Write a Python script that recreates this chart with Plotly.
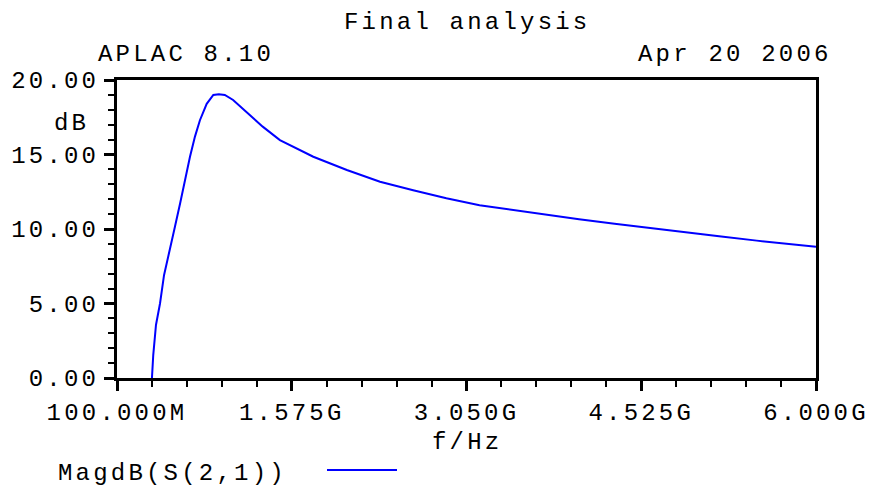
import plotly.graph_objects as go

# Data (frequency in GHz, magnitude in dB)
freq_ghz = [0.395, 0.406, 0.429, 0.463, 0.497, 0.533, 0.562, 0.589, 0.632, 0.674,
            0.716, 0.758, 0.80, 0.857, 0.913, 0.96, 1.01, 1.08, 1.19, 1.33,
            1.475, 1.644, 1.757, 2.04, 2.32, 2.6, 2.88, 3.16, 3.44, 3.73,
            4.0, 4.3, 4.6, 4.9, 5.2, 5.5, 5.8, 6.0]
mag_db = [0.0, 1.54, 3.56, 5.0, 6.9, 8.14, 9.04, 10.15, 11.7, 13.3,
          14.85, 16.2, 17.3, 18.4, 19.0, 19.05, 19.0, 18.66, 17.87, 16.87,
          15.97, 15.3, 14.85, 13.96, 13.17, 12.6, 12.06, 11.6, 11.27, 10.94,
          10.65, 10.35, 10.05, 9.78, 9.5, 9.22, 8.95, 8.8]

x_tickvals = [0.1, 1.575, 3.05, 4.525, 6.0]
x_ticktext = ["100.000M", "1.575G", "3.050G", "4.525G", "6.000G"]
y_tickvals = [0, 5, 10, 15, 20]
y_ticktext = ["0.00", "5.00", "10.00", "15.00", "20.00"]

FONT = "Liberation Mono"
FS = 24
LS = "letter-spacing:3.2px"


def sp(t):
    return '<span style="%s">%s</span>' % (LS, t)


fig = go.Figure()
fig.add_trace(go.Scatter(x=freq_ghz, y=mag_db, mode="lines",
                         line=dict(color="#0000ff", width=2),
                         name="MagdB(S(2,1))", showlegend=False))

axis_common = dict(
    ticks="outside", ticklen=10, tickwidth=3, tickcolor="black",
    showline=True, linewidth=3, linecolor="black", mirror=True,
    showgrid=False, zeroline=False, automargin=False,
    tickfont=dict(family=FONT, size=FS, color="black"),
)

fig.update_layout(
    width=871, height=489,
    margin=dict(l=117, r=55, t=80, b=111),
    paper_bgcolor="white", plot_bgcolor="white",
    font=dict(family=FONT, size=FS, color="black"),
    xaxis=dict(range=[0.1, 6.0], tickmode="array", tickvals=x_tickvals,
               ticktext=[sp(t) for t in x_ticktext],
               minor=dict(tick0=0.1, dtick=0.295, ticks="outside", ticklen=6,
                          tickwidth=2, tickcolor="black", showgrid=False),
               **axis_common),
    yaxis=dict(range=[0, 20], tickmode="array", tickvals=y_tickvals,
               ticktext=[sp(t) for t in y_ticktext],
               minor=dict(tick0=0, dtick=1, ticks="outside", ticklen=6,
                          tickwidth=2, tickcolor="black", showgrid=False),
               **axis_common),
)


def ann(text, x, y, xanchor="center", yanchor="middle"):
    fig.add_annotation(text=sp(text), x=x, y=y, xref="paper", yref="paper",
                       xanchor=xanchor, yanchor=yanchor, showarrow=False,
                       borderpad=0,
                       font=dict(family=FONT, size=FS, color="black"))


ann("Final analysis", 0.5, 1.1913)
ann("APLAC 8.10", -0.0286, 1.0839, xanchor="left")
ann("Apr 20 2006", 1.0243, 1.0839, xanchor="right")
ann("dB", -0.0386, 0.8557, xanchor="right")
ann("f/Hz", 0.5, -0.218)
ann("MagdB(S(2,1))", -0.0858, -0.3188, xanchor="left")

fig.add_shape(type="line", xref="paper", yref="paper",
              x0=(327 - 117) / 699, x1=(397 - 117) / 699,
              y0=-0.3087, y1=-0.3087,
              line=dict(color="#0000ff", width=2))

fig.write_html(
    "out.html",
    config={"displayModeBar": False},
    post_script="document.body.style.margin='0';document.body.style.overflow='hidden';",
)
